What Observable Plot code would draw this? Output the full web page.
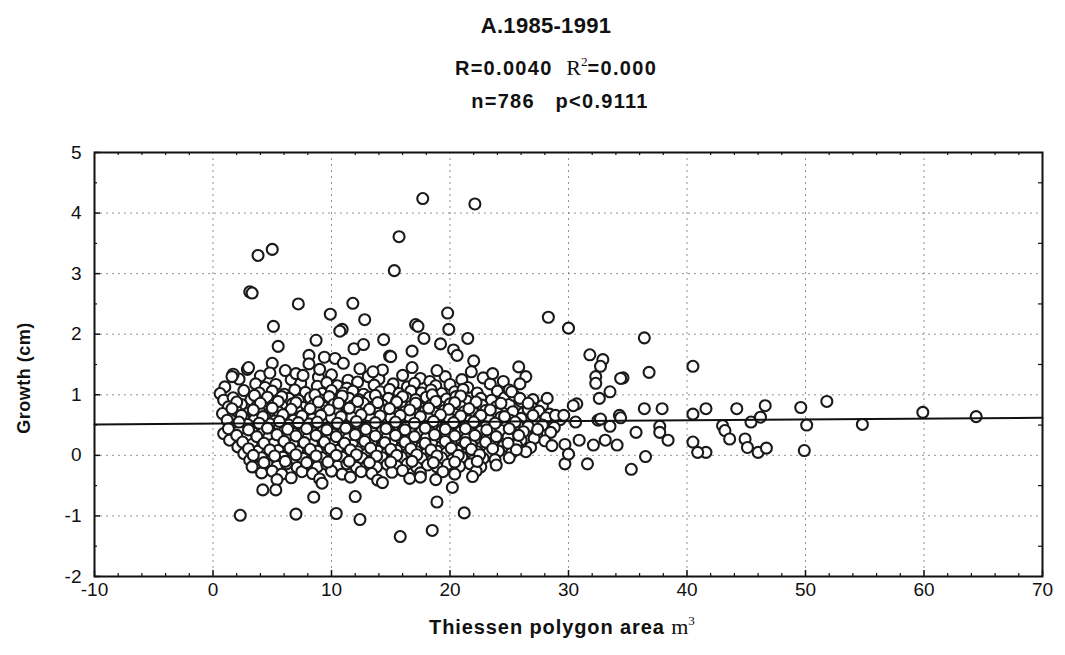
<!DOCTYPE html>
<html>
<head>
<meta charset="utf-8">
<script src="https://cdn.jsdelivr.net/npm/d3@7"></script>
<script src="https://cdn.jsdelivr.net/npm/@observablehq/plot@0.6"></script>
<style>
  html, body { margin: 0; padding: 0; background: #fff; }
  #fig { position: relative; width: 1065px; height: 655px; overflow: hidden; font-family: "Liberation Sans", Arial, sans-serif; color: #111; }
  .t { position: absolute; white-space: nowrap; transform: translate(-50%, -50%); font-weight: bold; }
  .serif { font-family: "Liberation Serif", "Times New Roman", serif; font-weight: normal; }
  sup { font-size: 60%; vertical-align: 0.65em; line-height: 0; }
  #chart { position: absolute; left: 0; top: 0; }
</style>
</head>
<body>
<div id="fig">
  <div id="chart"></div>
  <div class="t" style="left:546px; top:26px; font-size:22px; letter-spacing:0.3px;">A.1985-1991</div>
  <div class="t" style="left:556px; top:68px; font-size:20px; letter-spacing:1.3px;">R=0.0040&nbsp;&nbsp;<span class="serif" style="font-size:22px; letter-spacing:0;">R<sup>2</sup></span>=0.000</div>
  <div class="t" style="left:560px; top:101px; font-size:20px; letter-spacing:1.3px;">n=786&nbsp;&nbsp;&nbsp;p&lt;0.9111</div>
  <div class="t" style="left:24px; top:378px; font-size:18px; letter-spacing:0.5px; transform: translate(-50%, -50%) rotate(-90deg);">Growth (cm)</div>
  <div class="t" style="left:562px; top:627px; font-size:20px; letter-spacing:0.9px;">Thiessen polygon area <span class="serif" style="font-size:22px; letter-spacing:0;">m<sup>3</sup></span></div>
</div>
<script>
// Axis ticks
const xTicks = [-10, 0, 10, 20, 30, 40, 50, 60, 70];
const yTicks = [-2, -1, 0, 1, 2, 3, 4, 5];
const xMinor = [-8, -6, -4, -2, 2, 4, 6, 8, 12, 14, 16, 18, 22, 24, 26, 28, 32, 34, 36, 38, 42, 44, 46, 48, 52, 54, 56, 58, 62, 64, 66, 68];
const yMinor = [-1.5, -0.5, 0.5, 1.5, 2.5, 3.5, 4.5];

// Fitted regression line
const fitLine = [{x: -10, y: 0.51}, {x: 70, y: 0.62}];

// Sparse points above the main cloud [area, growth]
const upperPoints = [
  [3.8,3.30],[5.0,3.40],[3.1,2.70],[3.3,2.68],[7.2,2.50],[9.9,2.33],[11.8,2.51],[12.8,2.24],
  [15.3,3.05],[15.7,3.61],[17.7,4.24],[22.1,4.15],[19.8,2.35],[28.3,2.28],[17.1,2.16],[17.3,2.13],
  [19.9,2.08],[30.0,2.10],[5.1,2.13],[10.9,2.08],[10.7,2.05],
  [5.5,1.80],[5.0,1.52],[2.9,1.42],[1.7,1.34],[8.7,1.90],[11.9,1.76],[12.7,1.83],[14.4,1.91],
  [16.8,1.72],[17.8,1.93],[19.2,1.84],[21.5,1.93],[22.0,1.56],[25.8,1.46],[14.9,1.64],[20.3,1.74],
  [20.6,1.65],[8.1,1.65],[8.1,1.51],[9.4,1.62],[10.3,1.60],[11.0,1.52],[12.4,1.43],[15.0,1.63],
  [14.3,1.41],[1.6,1.30],[6.1,1.40],[7.0,1.35],[7.6,1.32],
  [3.0,1.45],[4.8,1.36],[9.0,1.42],[13.5,1.38],[16.8,1.45],[18.9,1.40],[21.8,1.38],[23.6,1.35],
  [24.5,1.22],[26.4,1.30],[25.0,1.08]
];

// Right-hand tail of the cloud
const tailPoints = [
  [31.8,1.66],[32.9,1.58],[32.7,1.47],[36.4,1.94],[40.5,1.47],[36.8,1.37],[34.6,1.28],[34.4,1.27],
  [32.3,1.30],[32.3,1.19],[25.9,1.18],[33.5,1.05],[32.6,0.94],[30.7,0.85],[30.4,0.82],[28.2,0.94],
  [25.2,1.05],[25.9,0.94],[26.6,0.86],[28.9,0.66],[29.6,0.66],[30.6,0.55],[32.5,0.58],[32.7,0.60],
  [34.3,0.66],[34.4,0.62],[33.5,0.48],[36.4,0.77],[37.9,0.77],[37.7,0.48],[37.7,0.38],[38.4,0.25],
  [35.7,0.38],[40.5,0.68],[41.6,0.77],[40.5,0.22],[41.6,0.05],[40.9,0.05],[36.5,-0.02],[35.3,-0.23],
  [31.6,-0.14],[29.7,-0.14],[34.1,0.17],[33.1,0.25],[32.1,0.17],[30.9,0.25],[29.7,0.18],[30.0,0.02],
  [43.0,0.49],[43.2,0.41],[43.6,0.27],[44.2,0.77],[44.9,0.27],[45.1,0.13],[46.0,0.05],[46.7,0.12],
  [45.4,0.55],[46.2,0.63],[46.6,0.82],[49.6,0.79],[50.1,0.50],[49.9,0.08],[51.8,0.89],[54.8,0.51],
  [59.9,0.71],[64.4,0.64]
];

// Sparse points below the main cloud
const lowerPoints = [
  [4.2,-0.57],[5.3,-0.57],[8.5,-0.69],[12.0,-0.68],[2.3,-0.99],[7.0,-0.97],[10.4,-0.96],[12.4,-1.06],
  [15.8,-1.34],[18.5,-1.24],[18.9,-0.77],[20.2,-0.53],[21.2,-0.95],[14.3,-0.45],[17.5,-0.36],[21.9,-0.35],
  [9.2,-0.46],[3.3,-0.19]
];

// Dense central cloud
const cloudPoints = [
  [2.2,1.26],[4.0,1.31],[6.6,1.25],[8.9,1.29],[10.0,1.33],[11.4,1.24],[13.1,1.30],[14.0,1.26],[16.0,1.32],[17.5,1.27],[18.3,1.22],[19.6,1.30],[21.0,1.25],[22.8,1.28],
  [1.0,1.13],[3.6,1.18],[4.4,1.12],[5.3,1.17],[7.4,1.19],[8.8,1.14],[9.6,1.20],[10.5,1.15],[11.3,1.11],[12.2,1.21],[13.6,1.16],[15.2,1.18],[16.4,1.13],[17.0,1.19],[18.8,1.15],[20.0,1.17],[21.5,1.12],[23.4,1.18],
  [0.6,1.02],[2.6,1.07],[3.9,1.03],[5.0,1.06],[6.0,1.01],[6.9,1.08],[7.8,1.04],[9.2,1.02],[10.0,1.07],[11.0,1.03],[11.8,1.06],[12.7,1.01],[14.1,1.05],[14.9,1.09],[15.7,1.02],[16.7,1.06],[17.6,1.03],[18.4,1.08],[19.3,1.02],[20.4,1.05],[21.1,1.09],[22.3,1.03],[24.0,1.06],
  [0.9,0.91],[1.7,0.95],[3.2,0.92],[4.6,0.96],[5.4,0.90],[6.4,0.94],[7.2,0.91],[8.2,0.95],[9.0,0.92],[9.8,0.97],[10.6,0.90],[11.5,0.94],[12.3,0.92],[13.2,0.96],[14.0,0.91],[14.8,0.94],[15.5,0.90],[16.3,0.95],[17.1,0.92],[18.0,0.96],[18.8,0.91],[19.7,0.93],[20.5,0.97],[21.4,0.90],[22.6,0.94],[23.5,0.91],[24.6,0.95],[27.0,0.92],
  [1.3,0.80],[2.4,0.84],[3.7,0.81],[4.3,0.78],[5.1,0.83],[5.9,0.80],[6.7,0.85],[7.6,0.79],[8.5,0.83],[9.3,0.80],[10.2,0.84],[11.0,0.79],[11.8,0.82],[12.7,0.86],[13.5,0.80],[14.3,0.83],[15.1,0.79],[15.9,0.84],[16.7,0.81],[17.5,0.78],[18.4,0.83],[19.2,0.80],[20.0,0.85],[20.9,0.81],[21.8,0.78],[22.7,0.83],[23.9,0.80],[25.0,0.84],[26.9,0.79],[27.8,0.82],
  [0.8,0.69],[2.0,0.73],[3.0,0.70],[3.9,0.74],[4.7,0.68],[5.5,0.72],[6.3,0.70],[7.1,0.74],[7.9,0.69],[8.8,0.72],[9.6,0.68],[10.4,0.73],[11.3,0.70],[12.1,0.74],[12.9,0.69],[13.8,0.71],[14.6,0.75],[15.4,0.69],[16.2,0.72],[17.0,0.68],[17.9,0.73],[18.7,0.70],[19.5,0.74],[20.4,0.68],[21.2,0.72],[22.0,0.70],[23.0,0.74],[24.0,0.69],[25.3,0.72],[26.2,0.70],[27.5,0.73],[28.4,0.68],
  [1.2,0.58],[2.6,0.62],[3.5,0.59],[4.4,0.63],[5.2,0.57],[6.0,0.61],[6.8,0.58],[7.6,0.63],[8.4,0.60],[9.2,0.57],[10.0,0.62],[10.9,0.59],[11.7,0.63],[12.5,0.58],[13.3,0.61],[14.2,0.57],[15.0,0.62],[15.8,0.59],[16.6,0.63],[17.4,0.58],[18.2,0.61],[19.1,0.57],[19.9,0.62],[20.7,0.60],[21.6,0.57],[22.4,0.62],[23.3,0.59],[24.3,0.63],[25.1,0.58],[26.0,0.61],[27.2,0.58],[28.1,0.62],[29.3,0.59],
  [1.8,0.47],[2.9,0.51],[3.9,0.48],[4.8,0.52],[5.6,0.46],[6.4,0.50],[7.3,0.47],[8.1,0.52],[8.9,0.48],[9.7,0.45],[10.6,0.50],[11.4,0.47],[12.2,0.52],[13.0,0.48],[13.9,0.51],[14.7,0.46],[15.5,0.50],[16.3,0.47],[17.2,0.52],[18.0,0.48],[18.8,0.51],[19.6,0.46],[20.5,0.50],[21.3,0.48],[22.1,0.52],[23.0,0.47],[23.8,0.50],[24.7,0.46],[25.7,0.51],[26.6,0.48],[27.8,0.50],[28.8,0.46],
  [0.9,0.36],[2.2,0.40],[3.4,0.37],[4.3,0.41],[5.2,0.35],[6.0,0.39],[6.8,0.36],[7.7,0.40],[8.5,0.37],[9.3,0.41],[10.2,0.35],[11.0,0.39],[11.8,0.36],[12.7,0.40],[13.5,0.37],[14.3,0.41],[15.1,0.35],[16.0,0.39],[16.8,0.36],[17.6,0.40],[18.4,0.37],[19.3,0.41],[20.1,0.35],[20.9,0.39],[21.8,0.36],[22.6,0.40],[23.5,0.37],[24.3,0.41],[25.3,0.36],[26.2,0.39],[27.3,0.35],[28.5,0.38],
  [1.4,0.25],[2.8,0.29],[3.8,0.26],[4.7,0.30],[5.5,0.24],[6.4,0.28],[7.2,0.25],[8.0,0.29],[8.9,0.26],[9.7,0.30],[10.5,0.24],[11.4,0.28],[12.2,0.25],[13.0,0.29],[13.8,0.26],[14.7,0.30],[15.5,0.24],[16.4,0.28],[17.2,0.25],[18.0,0.29],[18.9,0.26],[19.7,0.30],[20.5,0.24],[21.4,0.28],[22.2,0.25],[23.1,0.29],[24.0,0.26],[24.9,0.30],[26.0,0.25],[27.1,0.28],[28.0,0.24],
  [2.1,0.14],[3.3,0.18],[4.2,0.15],[5.1,0.19],[5.9,0.13],[6.8,0.17],[7.6,0.14],[8.4,0.18],[9.3,0.15],[10.1,0.19],[10.9,0.13],[11.8,0.17],[12.6,0.14],[13.4,0.18],[14.3,0.15],[15.1,0.19],[15.9,0.13],[16.8,0.17],[17.6,0.14],[18.5,0.18],[19.3,0.15],[20.1,0.19],[21.0,0.13],[21.8,0.17],[22.7,0.14],[23.6,0.18],[24.5,0.15],[25.6,0.17],[26.8,0.13],[28.6,0.16],
  [2.6,0.03],[3.8,0.07],[4.6,0.04],[5.5,0.08],[6.3,0.02],[7.2,0.06],[8.0,0.03],[8.8,0.07],[9.7,0.04],[10.5,0.08],[11.3,0.02],[12.2,0.06],[13.0,0.03],[13.9,0.07],[14.7,0.04],[15.5,0.08],[16.4,0.02],[17.2,0.06],[18.0,0.03],[18.9,0.07],[19.7,0.04],[20.6,0.08],[21.4,0.02],[22.3,0.06],[23.2,0.03],[24.1,0.07],[25.2,0.04],[26.4,0.06],
  [3.1,-0.08],[4.1,-0.04],[5.0,-0.07],[5.9,-0.03],[6.7,-0.09],[7.6,-0.05],[8.4,-0.08],[9.2,-0.04],[10.1,-0.07],[10.9,-0.03],[11.7,-0.09],[12.6,-0.05],[13.4,-0.08],[14.3,-0.04],[15.1,-0.07],[15.9,-0.03],[16.8,-0.09],[17.6,-0.05],[18.5,-0.08],[19.3,-0.04],[20.2,-0.07],[21.0,-0.03],[21.9,-0.09],[22.8,-0.05],[23.8,-0.07],[25.0,-0.04],
  [3.6,-0.19],[4.6,-0.15],[5.4,-0.18],[6.2,-0.14],[7.1,-0.20],[7.9,-0.16],[8.8,-0.19],[9.6,-0.15],[10.5,-0.18],[11.3,-0.14],[12.1,-0.20],[13.0,-0.16],[13.8,-0.19],[14.7,-0.15],[15.5,-0.18],[16.4,-0.14],[17.2,-0.20],[18.1,-0.16],[18.9,-0.19],[19.8,-0.15],[20.8,-0.18],[21.7,-0.14],[22.6,-0.19],[23.9,-0.16],
  [4.1,-0.29],[5.0,-0.26],[5.8,-0.31],[7.5,-0.27],[8.4,-0.30],[10.0,-0.26],[10.9,-0.31],[12.5,-0.27],[13.4,-0.30],[15.1,-0.28],[16.0,-0.25],[17.5,-0.29],[19.4,-0.27],[20.4,-0.31],[22.2,-0.26],
  [5.4,-0.40],[6.6,-0.37],[9.0,-0.39],[11.6,-0.36],[13.9,-0.41],[16.6,-0.38],[18.8,-0.40]
];

// Extra points filling the core of the cloud
const coreExtra = [
  [3.5,0.99],[5.8,0.97],[8.6,1.00],[10.9,0.98],[13.7,0.99],[16.0,0.97],[18.5,1.00],[20.9,0.98],[25.4,0.99],
  [2.0,0.88],[4.0,0.86],[5.5,0.89],[7.0,0.87],[8.9,0.88],[10.6,0.86],[12.2,0.89],[13.9,0.87],[15.5,0.88],[17.1,0.86],[18.8,0.89],[20.4,0.87],[22.2,0.88],[24.3,0.86],[26.0,0.89],
  [1.6,0.77],[3.4,0.75],[5.0,0.78],[6.6,0.76],[8.2,0.77],[9.8,0.75],[11.5,0.78],[13.2,0.76],[14.9,0.77],[16.6,0.75],[18.2,0.78],[19.9,0.76],[21.6,0.77],[23.4,0.75],[26.6,0.76],
  [2.4,0.66],[4.2,0.64],[5.9,0.67],[7.5,0.65],[9.1,0.66],[10.8,0.64],[12.5,0.67],[14.1,0.65],[15.8,0.66],[17.5,0.64],[19.2,0.67],[20.9,0.65],[22.6,0.66],[24.6,0.64],[27.0,0.66],
  [2.2,0.55],[3.9,0.53],[5.6,0.56],[7.2,0.54],[8.8,0.55],[10.5,0.53],[12.1,0.56],[13.7,0.54],[15.4,0.55],[17.0,0.53],[18.6,0.56],[20.3,0.54],[22.0,0.55],[23.8,0.53],[25.5,0.55],
  [1.3,0.44],[3.0,0.42],[4.6,0.45],[6.3,0.43],[7.9,0.44],[9.6,0.42],[11.2,0.45],[12.9,0.43],[14.6,0.44],[16.2,0.42],[17.9,0.45],[19.6,0.43],[21.3,0.44],[23.1,0.42],[25.0,0.44],[27.4,0.43],
  [2.0,0.33],[3.7,0.31],[5.4,0.34],[7.0,0.32],[8.7,0.33],[10.4,0.31],[12.0,0.34],[13.7,0.32],[15.4,0.33],[17.0,0.31],[18.7,0.34],[20.4,0.32],[22.1,0.33],[23.9,0.31],[25.8,0.33],
  [2.5,0.22],[4.3,0.20],[6.0,0.23],[7.7,0.21],[9.4,0.22],[11.1,0.20],[12.8,0.23],[14.5,0.21],[16.2,0.22],[17.9,0.20],[19.6,0.23],[21.3,0.21],[23.0,0.22],[24.9,0.20],
  [3.0,0.11],[4.8,0.09],[6.5,0.12],[8.2,0.10],[9.9,0.11],[11.6,0.09],[13.3,0.12],[15.0,0.10],[16.7,0.11],[18.4,0.09],[20.1,0.12],[21.8,0.10],[23.6,0.11],[25.6,0.09],
  [3.4,0.00],[5.2,-0.01],[7.0,0.01],[8.7,-0.01],[10.4,0.00],[12.1,0.01],[13.8,-0.01],[15.5,0.00],[17.2,0.01],[18.9,-0.01],[20.7,0.00],[22.5,0.01],
  [4.3,-0.12],[6.1,-0.10],[7.9,-0.12],[9.7,-0.11],[11.5,-0.10],[13.2,-0.12],[15.0,-0.11],[16.8,-0.10],[18.6,-0.12],[20.4,-0.11],[22.3,-0.10]
];

const points = [...cloudPoints, ...coreExtra, ...upperPoints, ...tailPoints, ...lowerPoints];

const W = 1065, H = 655;
const mL = 94, mR = 23, mT = 152, mB = 79;
const innerW = W - mL - mR, innerH = H - mT - mB;
const fmt = d => String(d);

const chart = Plot.plot({
  width: W, height: H,
  marginLeft: mL, marginRight: mR, marginTop: mT, marginBottom: mB,
  style: { fontFamily: "'Liberation Sans', Arial, sans-serif", fontSize: "19px", color: "#111", background: "transparent" },
  x: { domain: [-10, 70] },
  y: { domain: [-2, 5] },
  marks: [
    Plot.gridX(xTicks.slice(1, -1), { stroke: "#777", strokeOpacity: 0.8, strokeDasharray: "2,4", strokeWidth: 1 }),
    Plot.gridY(yTicks.slice(1, -1), { stroke: "#777", strokeOpacity: 0.8, strokeDasharray: "2,4", strokeWidth: 1 }),
    // inward tick marks
    Plot.tickX(xTicks, { x: d => d, insetTop: innerH - 6, stroke: "#111", strokeWidth: 1.5 }),
    Plot.tickX(xMinor, { x: d => d, insetTop: innerH - 3, stroke: "#111", strokeWidth: 1.2 }),
    Plot.tickX(xMinor, { x: d => d, insetBottom: innerH - 3, stroke: "#111", strokeWidth: 1.2 }),
    Plot.tickY(yTicks, { y: d => d, insetRight: innerW - 6, stroke: "#111", strokeWidth: 1.5 }),
    Plot.tickY(yMinor, { y: d => d, insetRight: innerW - 3, stroke: "#111", strokeWidth: 1.2 }),
    Plot.tickY(yMinor, { y: d => d, insetLeft: innerW - 4, stroke: "#111", strokeWidth: 1.2 }),
    Plot.axisX(xTicks, { tickSize: 0, tickPadding: 6, tickFormat: fmt, label: null, fontSize: 19 }),
    Plot.axisY(yTicks, { tickSize: 0, tickPadding: 13, tickFormat: fmt, label: null, fontSize: 19 }),
    Plot.dot(points, { x: d => d[0], y: d => d[1], r: 5.5, fill: "white", stroke: "#1a1a1a", strokeWidth: 2.1 }),
    Plot.line(fitLine, { x: "x", y: "y", stroke: "#111", strokeWidth: 2 }),
    Plot.frame({ stroke: "#111", strokeWidth: 2 })
  ]
});
document.getElementById("chart").appendChild(chart);
</script>
</body>
</html>
